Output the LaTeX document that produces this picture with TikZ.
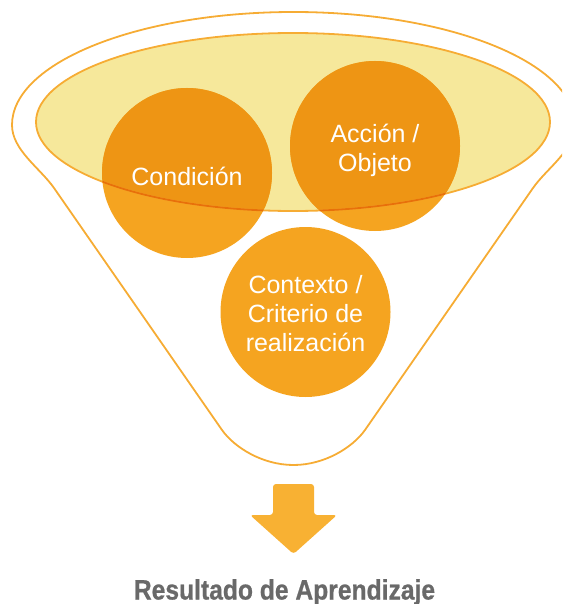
\documentclass[tikz,border=0pt]{standalone}
\usepackage{fontspec}
\setmainfont{Liberation Sans}
\newfontfamily\titlefont[FakeStretch=0.88, FakeBold=0.8]{Liberation Sans Bold}
\definecolor{funnelc}{RGB}{246,172,52}
\definecolor{yel}{RGB}{246,232,155}
\definecolor{ballc}{RGB}{245,164,32}
\definecolor{balldark}{RGB}{238,149,20}
\definecolor{ringdark}{RGB}{232,112,10}
\definecolor{arrowc}{RGB}{248,177,51}
\definecolor{greyc}{RGB}{105,105,105}
\begin{document}
\begin{tikzpicture}[x=1pt,y=-1pt,
  funnel/.style={draw=funnelc, line width=1.8pt, line join=round},
  ball/.style={circle, fill=ballc, minimum size=170pt, inner sep=0pt},
  balltext/.style={text=white, font=\fontsize{25}{29}\selectfont, align=center, inner sep=0pt},
  ring/.style={line width=1.8pt}]
\useasboundingbox (0,0) rectangle (562,604);
\clip (0,0) rectangle (562,604);
% funnel outline
\draw[funnel] (12,125) arc[start angle=180, end angle=0, x radius=281.5pt, y radius=113pt]
  .. controls (575,150) and (547,168) .. (533,188) -- (365,430)
  .. controls (353,447) and (325,465) .. (293.5,465)
  .. controls (262,465) and (234,447) .. (222,430) -- (54,188)
  .. controls (40,168) and (12,150) .. (12,125) -- cycle;
% inner ellipse fill
\coordinate (ec) at (293,122);
\fill[yel] (ec) ellipse[x radius=257pt, y radius=89pt];
% circles
\node[ball] (c1) at (187,173) {};
\node[ball] (c2) at (375,146) {};
\node[ball] (c3) at (305.5,312) {};
\begin{scope}
  \clip (ec) ellipse[x radius=257pt, y radius=89pt];
  \fill[balldark] (c1) circle[radius=85pt];
  \fill[balldark] (c2) circle[radius=85pt];
\end{scope}
\draw[ring, draw=funnelc] (ec) ellipse[x radius=257pt, y radius=89pt];
\begin{scope}
  \clip (c1) circle[radius=85pt] (c2) circle[radius=85pt];
  \draw[ring, draw=ringdark] (ec) ellipse[x radius=257pt, y radius=89pt];
\end{scope}
% texts
\node[balltext] (t1) at ([yshift=-3pt]c1) {Condición};
\node[balltext] (t2) at ([yshift=-4pt]c2) {Acción /\\Objeto};
\node[balltext] (t3) at ([yshift=-2pt]c3) {Contexto /\\Criterio de\\realización};
% arrow
\fill[arrowc, rounded corners=3pt] (273,484) -- (314,484) -- (314,515) -- (337,515)
  -- (293.5,554) -- (250,515) -- (273,515) -- cycle;
\node[anchor=base, text=greyc, font=\titlefont\fontsize{28}{32}\selectfont, inner sep=0pt] (res) at (284.5,599.5) {Resultado de Aprendizaje};
\end{tikzpicture}
\end{document}
